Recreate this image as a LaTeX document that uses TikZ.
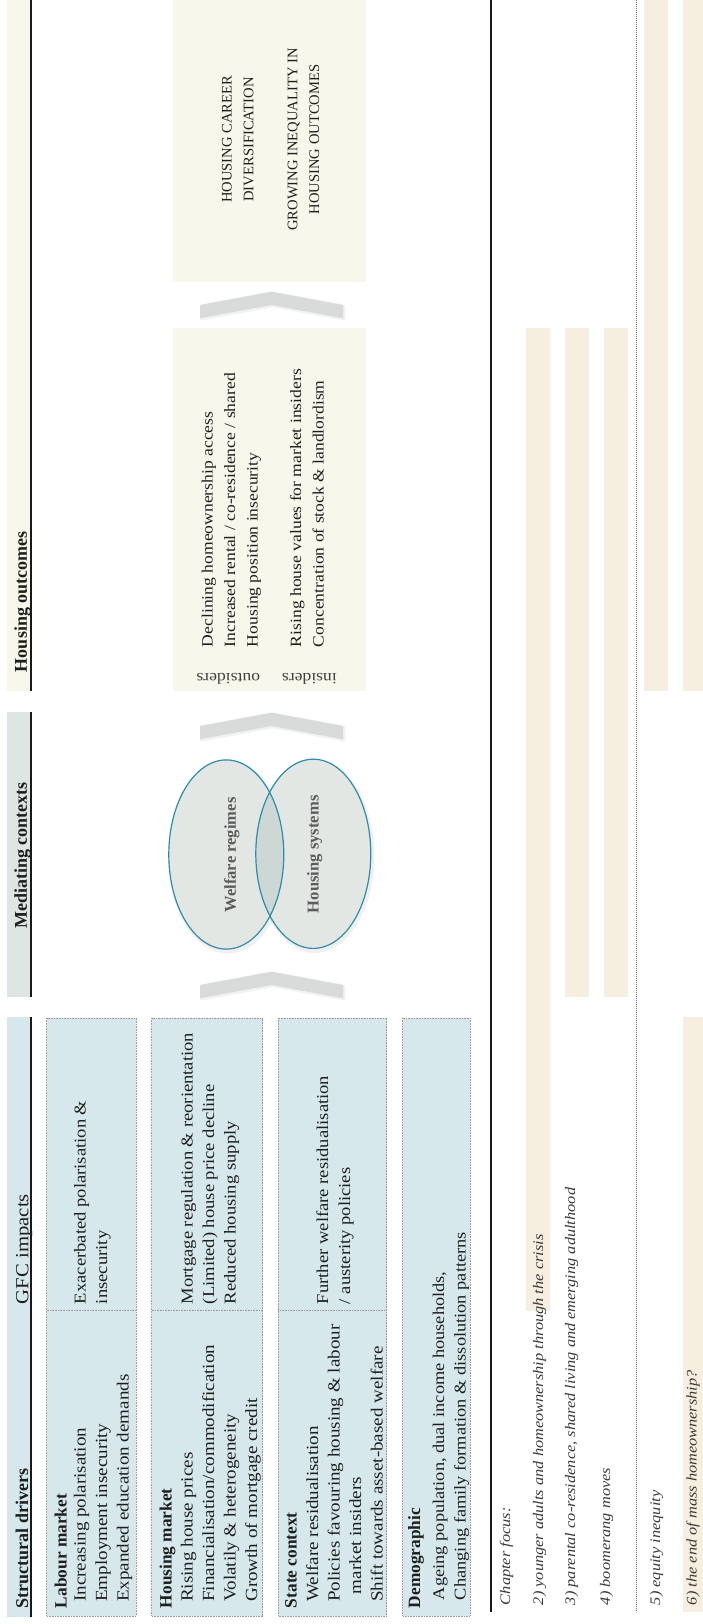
\documentclass[tikz,border=0pt]{standalone}
\usepackage{fontspec}
\setmainfont{Liberation Serif}
\newfontfamily\widefont{Liberation Serif}[FakeStretch=1.12]
\definecolor{sdblue}{HTML}{D6E8EC}
\definecolor{medgrey}{HTML}{DDE6E2}
\definecolor{outbeige}{HTML}{F7F7EC}
\definecolor{chaptan}{HTML}{F6EEDF}
\definecolor{chevgrey}{HTML}{D9DADA}
\definecolor{ellfill}{HTML}{E2E7E4}
\definecolor{ellover}{HTML}{CDD7D3}
\definecolor{ellline}{HTML}{2F8CAB}
\definecolor{boxline}{HTML}{9A9A9A}
\definecolor{txtgrey}{HTML}{5C5C5C}
\definecolor{chaptext}{HTML}{3A3A3A}
\definecolor{maintext}{HTML}{1E1E1E}
\begin{document}
\begin{tikzpicture}[x=1pt,y=-1pt,
  vtxt/.style={rotate=90,anchor=base west,inner sep=0pt,outer sep=0pt,text=maintext},
  vctr/.style={rotate=90,anchor=base,inner sep=0pt,outer sep=0pt,text=maintext},
  hdr/.style={vtxt,font=\fontsize{18}{20}\selectfont\bfseries},
  ttl/.style={vtxt,font=\fontsize{17.3}{20}\selectfont\bfseries},
  itm/.style={vtxt,font=\widefont\fontsize{17}{20}\selectfont},
  itmd/.style={vtxt,font=\widefont\fontsize{16.4}{20}\selectfont},
  gfc/.style={vtxt,font=\widefont\fontsize{16.6}{20}\selectfont},
  outc/.style={vtxt,font=\widefont\fontsize{15.7}{20}\selectfont},
  caps/.style={vctr,font=\fontsize{14.6}{20}\selectfont},
  chap/.style={vtxt,font=\widefont\itshape\fontsize{14.6}{20}\selectfont,text=chaptext},
  drvbox/.style={fill=sdblue,draw=boxline,line width=0.8pt,dash pattern=on 0.9pt off 0.7pt},
  divline/.style={draw=boxline,line width=0.8pt,dash pattern=on 0.9pt off 0.7pt},
  rule/.style={draw=black!90,line width=1.7pt},
  dashrule/.style={draw=black!55,line width=1pt,dash pattern=on 1.2pt off 0.8pt},
  chev/.style={fill=chevgrey},
  chevshadow/.style={draw=black,draw opacity=0.05,line width=2.5pt,line join=round},
  ellshadow/.style={draw=black,draw opacity=0.06,line width=4pt},
  ellstroke/.style={draw=ellline,line width=1.2pt},
  elltext/.style={vctr,font=\fontsize{16.6}{20}\selectfont\bfseries,text=txtgrey}
]
\useasboundingbox (0,0) rectangle (703,1624);
\fill[white] (0,0) rectangle (703,1624);

% ---------- column headers ----------
\fill[outbeige] (7.3,0) rectangle (31,690.7);
\fill[medgrey] (7.3,712.3) rectangle (31,996.7);
\fill[sdblue] (7.3,1017) rectangle (31,1616.7);
\draw[rule] (31,0) -- (31,690.7);
\draw[rule] (31,712.3) -- (31,996.7);
\draw[rule] (31,1017) -- (31,1616.7);
\node[hdr] (hsd) at (28,1608) {Structural drivers};
\node[vtxt,font=\widefont\fontsize{18.5}{20}\selectfont] (hgfc) at (28.3,1304) {GFC impacts};
\node[vctr,font=\fontsize{18}{20}\selectfont\bfseries] (hmc) at (27,855.5) {Mediating contexts};
\node[hdr] (hho) at (27,672) {Housing outcomes};

% ---------- chapter focus column ----------
\fill[chaptan] (526,328.3) rectangle (550,1311);
\fill[chaptan] (565,328.3) rectangle (589,996.7);
\fill[chaptan] (604,328.3) rectangle (628,996.7);
\fill[chaptan] (644,0) rectangle (668,690.7);
\fill[chaptan] (683,0) rectangle (707,690.7);
\fill[chaptan] (683,1016.7) rectangle (707,1612);
\draw[rule] (490.7,0) -- (490.7,1612);
\draw[dashrule] (636,0) -- (636,1612);
\node[chap] (cf0) at (510,1605) {Chapter focus:};
\node[chap] (cf2) at (543,1605) {2) younger adults and homeownership through the crisis};
\node[chap] (cf3) at (575,1605) {3) parental co-residence, shared living and emerging adulthood};
\node[chap] (cf4) at (610,1605) {4) boomerang moves};
\node[chap] (cf5) at (660,1605) {5) equity inequity};
\node[chap] (cf6) at (696.7,1605) {6) the end of mass homeownership?};

% ---------- structural driver boxes ----------
\path[drvbox] (46.7,1018) rectangle (136,1616);
\path[drvbox] (151.7,1018) rectangle (262.7,1616);
\path[drvbox] (278.3,1018) rectangle (386.7,1616);
\path[drvbox] (402.7,1018) rectangle (470,1616);
\draw[divline] (46.7,1310.5) -- (136,1310.5);
\draw[divline] (151.7,1310.5) -- (262.7,1310.5);
\draw[divline] (278.3,1310.5) -- (386.7,1310.5);

\node[ttl] (lm) at (66.7,1608) {Labour market};
\node[itm] (lm1) at (85.5,1601.7) {Increasing polarisation};
\node[itm] (lm2) at (107,1601.7) {Employment insecurity};
\node[itm] (lm3) at (128.5,1601.7) {Expanded education demands};
\node[gfc] (lmg1) at (85.5,1304) {Exacerbated polarisation \&};
\node[gfc] (lmg2) at (107,1304) {insecurity};

\node[ttl] (hm) at (171.5,1608) {Housing market};
\node[itm] (hm1) at (192.5,1601.7) {Rising house prices};
\node[itm] (hm2) at (214,1601.7) {Financialisation/commodification};
\node[itm] (hm3) at (235.5,1601.7) {Volatily \& heterogeneity};
\node[itm] (hm4) at (257,1601.7) {Growth of mortgage credit};
\node[gfc] (hmg1) at (192.5,1304) {Mortgage regulation \& reorientation};
\node[gfc] (hmg2) at (214,1304) {(Limited) house price decline};
\node[gfc] (hmg3) at (235.5,1304) {Reduced housing supply};

\node[ttl] (sc) at (296.5,1608) {State context};
\node[itm] (sc1) at (318,1601.7) {Welfare residualisation};
\node[itm] (sc2) at (339.5,1601.7) {Policies favouring housing \& labour};
\node[itm] (sc3) at (361,1594) {market insiders};
\node[itm] (sc4) at (382.5,1601.7) {Shift towards asset-based welfare};
\node[gfc] (scg1) at (328,1304) {Further welfare residualisation};
\node[gfc] (scg2) at (350,1304) {/ austerity policies};

\node[ttl] (dm) at (420,1608) {Demographic};
\node[itmd] (dm1) at (444,1600) {Ageing population, dual income households,};
\node[itmd] (dm2) at (465.5,1600) {Changing family formation \& dissolution patterns};

% ---------- chevrons ----------
\foreach \a in {291.7,712.7,971.7}{
  \draw[chevshadow] (201,\a+14.3) -- (272.5,\a+1) -- (344,\a+14.3) -- (344,\a+27.6)
     -- (272.5,\a+14.3) -- (201,\a+27.6) -- cycle;
  \fill[chev] (200,\a+13.3) -- (271.5,\a) -- (343,\a+13.3) -- (343,\a+26.6)
     -- (271.5,\a+13.3) -- (200,\a+26.6) -- cycle;
}

% ---------- mediating contexts ----------
\coordinate (welfare) at (226.3,854.5);
\coordinate (housing) at (313.3,853.8);
\draw[ellshadow] ([shift={(1.5,2.5)}]welfare) ellipse [x radius=57.5, y radius=94.6];
\draw[ellshadow] ([shift={(1.5,2.5)}]housing) ellipse [x radius=57.5, y radius=94.6];
\fill[ellfill] (welfare) ellipse [x radius=57.5, y radius=94.6];
\fill[ellfill] (housing) ellipse [x radius=57.5, y radius=94.6];
\begin{scope}
  \clip (welfare) ellipse [x radius=57.5, y radius=94.6];
  \fill[ellover] (housing) ellipse [x radius=57.5, y radius=94.6];
\end{scope}
\draw[ellstroke] (welfare) ellipse [x radius=57.5, y radius=94.6];
\draw[ellstroke] (housing) ellipse [x radius=57.5, y radius=94.6];
\node[elltext] (wr) at (235.8,855) {Welfare regimes};
\node[elltext] (hs) at (318.5,854.2) {Housing systems};

% ---------- housing outcomes ----------
\fill[outbeige] (172.7,0) rectangle (365.7,281.7);
\fill[outbeige] (172.7,328.3) rectangle (365.7,690.7);
\node[caps] (hc1) at (231.7,139.5) {HOUSING CAREER};
\node[caps] (hc2) at (253.3,139.5) {DIVERSIFICATION};
\node[caps] (hc3) at (297.3,139.5) {GROWING INEQUALITY IN};
\node[caps] (hc4) at (319,139.5) {HOUSING OUTCOMES};

\node[outc] (o1) at (212.5,647) {Declining homeownership access};
\node[outc] (o2) at (235,647) {Increased rental / co-residence / shared};
\node[outc] (o3) at (257.5,647) {Housing position insecurity};
\node[outc] (o4) at (301,647) {Rising house values for market insiders};
\node[outc] (o5) at (323.5,647) {Concentration of stock \& landlordism};
\node[rotate=180,anchor=base,inner sep=0pt,text=black!75,font=\widefont\fontsize{15.7}{18}\selectfont] (outs) at (228.3,673.3) {outsiders};
\node[rotate=180,anchor=base,inner sep=0pt,text=black!75,font=\widefont\fontsize{15.7}{18}\selectfont] (ins) at (309.5,673.3) {insiders};
\end{tikzpicture}
\end{document}
